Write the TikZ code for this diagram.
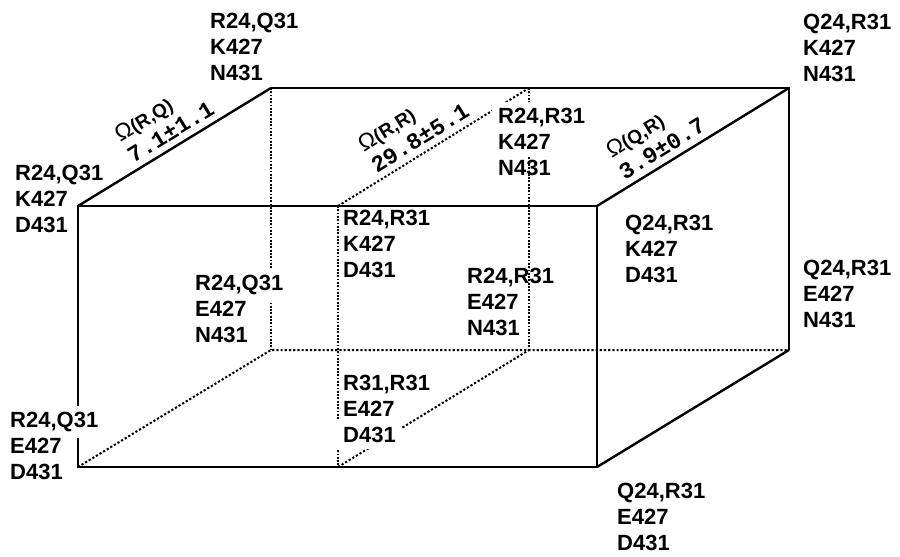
\documentclass[tikz,border=0pt]{standalone}
\usepackage{fontspec}
\setmainfont{Liberation Sans}
\newfontfamily\monofont{Liberation Mono}
% white patch under one text row, so a line behind it is cut
\newcommand{\mask}[1]{\smash{\makebox[0pt][l]{\hspace{-6pt}\fboxsep=6pt\colorbox{white}{\phantom{#1}}}}#1}
\newcommand{\om}[1]{{\fontsize{23}{23}\selectfont Ω}{\bfseries\fontsize{19}{19}\selectfont(#1)}}
\newcommand{\val}[1]{{\monofont\bfseries\fontsize{23}{23}\selectfont #1}}

\begin{document}
\begin{tikzpicture}[x=1pt, y=-1pt,
    edge/.style={line width=2.4pt, line join=miter},
    hidden/.style={line width=2pt, dash pattern=on 2.2pt off 2pt},
    hiddenthin/.style={line width=1.5pt, dash pattern=on 1.8pt off 1.5pt},
    lbl/.style={anchor=north west, inner sep=0pt, align=left,
                font=\bfseries\fontsize{22}{26}\selectfont},
    omega/.style={sloped, above=6pt, inner sep=0pt, align=left,
                  font=\fontsize{22}{25}\selectfont}]
    \useasboundingbox (0,0) rectangle (900,557);

    % Vertexs de la capsa
    \coordinate (ftl) at (78,206);   \coordinate (ftr) at (597,206);
    \coordinate (fbl) at (78,467);   \coordinate (fbr) at (597,467);
    \coordinate (btl) at (271,88);   \coordinate (btr) at (789,88);
    \coordinate (bbl) at (271,350);  \coordinate (bbr) at (789,350);
    % Pla del mig
    \coordinate (mft) at (338,206);  \coordinate (mfb) at (338,467);
    \coordinate (mbt) at (529,88);   \coordinate (mbb) at (529,350);

    % Arestes amagades
    \draw[hidden] (fbl) -- (bbl) -- (bbr);
    \draw[hiddenthin] (btl) -- (bbl);
    \draw[hiddenthin] (mft) -- (mfb);
    \draw[hiddenthin] (mbt) -- (mbb);
    \draw[hidden] (mfb) -- (mbb);
    \draw[hidden] (mft) -- node[omega, pos=0.47] (wrr) {\om{R,R}\\\val{29.8±5.1}} (mbt);

    % Arestes visibles
    \draw[edge] (ftl) rectangle (fbr);
    \draw[edge] (btl) -- (btr) -- (bbr);
    \draw[edge] (fbr) -- (bbr);
    \draw[edge] (ftl) -- node[omega, pos=0.52] (wrq) {\om{R,Q}\\\val{7.1±1.1}} (btl);
    \draw[edge] (ftr) -- node[omega, pos=0.38] (wqr) {\om{Q,R}\\\val{3.9±0.7}} (btr);

    % Etiquetes dels vertexs
    \node[lbl] (lbtl) at (210,13)  {R24,Q31\\K427\\N431};
    \node[lbl] (lbtr) at (803,14)  {Q24,R31\\K427\\N431};
    \node[lbl] (lftl) at (15,165)  {R24,Q31\\K427\\D431};
    \node[lbl] (lmft) at (343,210) {R24,R31\\K427\\D431};
    \node[lbl] (lmbt) at (498,108) {\mask{R24,R31}\\\mask{K427}\\N431};
    \node[lbl] (lftr) at (625,215) {Q24,R31\\K427\\D431};
    \node[lbl] (lbbl) at (195,275) {\mask{R24,Q31}\\E427\\N431};
    \node[lbl] (lmbb) at (467,268) {R24,R31\\E427\\N431};
    \node[lbl] (lbbr) at (803,260) {Q24,R31\\E427\\N431};
    \node[lbl] (lmfb) at (343,375) {R31,R31\\E427\\\mask{D431}};
    \node[lbl] (lfbl) at (10,412)  {\mask{R24,Q31}\\E427\\D431};
    \node[lbl] (lfbr) at (617,483) {Q24,R31\\E427\\D431};
\end{tikzpicture}
\end{document}
